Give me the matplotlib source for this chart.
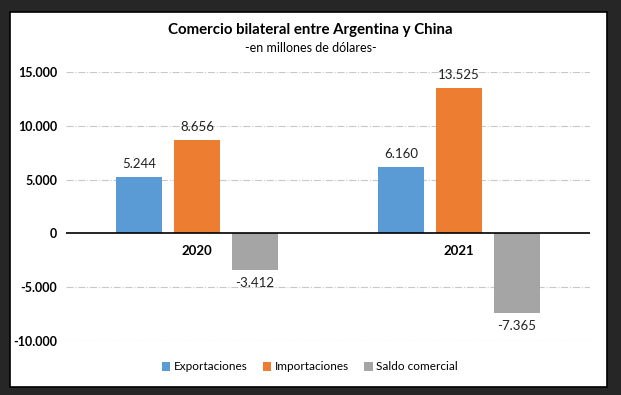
import matplotlib.pyplot as plt
from matplotlib.patches import Rectangle
import numpy as np

years = ['2020', '2021']
series = ['Exportaciones', 'Importaciones', 'Saldo comercial']
exportaciones = [5244, 6160]
importaciones = [8656, 13525]
saldo = [-3412, -7365]
yticks = [-10000, -5000, 0, 5000, 10000, 15000]

colors = ['#5B9BD5', '#ED7D31', '#A5A5A5']
plt.rcParams['font.family'] = ['Lato', 'DejaVu Sans']


def fmt(v):
    return f"{v:,}".replace(",", ".")


fig = plt.figure(figsize=(6.21, 3.95), dpi=100)
fig.patch.set_facecolor('#262626')
# white chart panel with thin black edge
fig.patches.append(Rectangle((10 / 621, 1 - 387 / 395), 597 / 621, 375 / 395,
                             transform=fig.transFigure, facecolor='white',
                             edgecolor='black', linewidth=1.2, zorder=-5))

ax = fig.add_axes([66 / 621, 1 - 341 / 395, 524 / 621, 269 / 395])
ax.set_facecolor('none')
ax.set_zorder(2)

x = np.arange(len(years))
width = 0.175
step = 0.221
for i, (name, vals) in enumerate(zip(series, [exportaciones, importaciones, saldo])):
    bars = ax.bar(x + (i - 1) * step, vals, width, color=colors[i], label=name, zorder=3)
    for b, v in zip(bars, vals):
        cx = b.get_x() + b.get_width() / 2
        if v >= 0:
            ax.annotate(fmt(v), (cx, v), xytext=(0, 5), textcoords='offset points',
                        ha='center', va='bottom', fontsize=9.5, color='#222222')
        else:
            ax.annotate(fmt(v), (cx, v), xytext=(0, -5), textcoords='offset points',
                        ha='center', va='top', fontsize=9.5, color='#222222')

ax.set_xlim(-0.5, 1.5)
ax.set_ylim(-10000, 15000)
ax.set_yticks(yticks)
ax.set_yticklabels([fmt(t) for t in yticks], fontweight='bold', fontsize=9)
ax.tick_params(axis='y', length=0, pad=6.5)
ax.set_xticks([])
for s in ax.spines.values():
    s.set_visible(False)

for t in yticks:
    if t != 0:
        ax.axhline(t, color='#C8C8C8', linewidth=0.8, linestyle='-.', zorder=1)
ax.axhline(0, color='black', linewidth=1.2, zorder=4)

for xi, yr in zip(x, years):
    ax.annotate(yr, (xi, 0), xytext=(0, -8), textcoords='offset points',
                ha='center', va='top', fontsize=9.5, fontweight='bold')

fig.text(0.5, 1 - 30 / 395, 'Comercio bilateral entre Argentina y China',
         ha='center', va='center', fontsize=10.8, fontweight='bold')
fig.text(0.5, 1 - 48 / 395, '-en millones de dólares-', ha='center', va='center',
         fontsize=9)

fig.legend(loc='center', bbox_to_anchor=(310 / 621, 1 - 367 / 395), ncol=3,
           frameon=False, fontsize=8.5, handlelength=0.7, handleheight=0.7,
           handletextpad=0.3, columnspacing=1.3)

fig.savefig('out.png', dpi=100, facecolor=fig.get_facecolor())
